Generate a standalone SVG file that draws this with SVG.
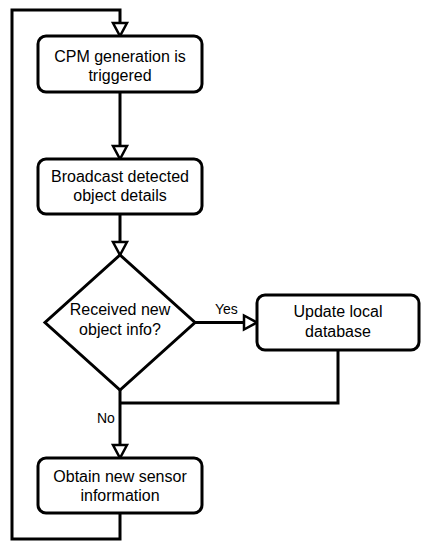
<svg xmlns="http://www.w3.org/2000/svg" width="429" height="550" viewBox="0 0 429 550">
<defs>
<style>
.box{fill:#fff;stroke:#000;stroke-width:3}
.ln{fill:none;stroke:#000;stroke-width:3;marker-end:url(#ah)}
.ln2{fill:none;stroke:#000;stroke-width:3}
text{font-family:"Liberation Sans",Arial,sans-serif;font-size:16px;fill:#000;text-anchor:middle}
.lbl{font-size:14px;text-anchor:start}
</style>
<marker id="ah" markerUnits="userSpaceOnUse" viewBox="0 0 20 20" markerWidth="20" markerHeight="20" refX="16" refY="10" orient="auto" overflow="visible">
<path d="M3,3 L16,10 L3,17 Z" fill="#fff" stroke="#000" stroke-width="2.5" stroke-linejoin="miter"/>
</marker>
</defs>
<rect width="429" height="550" fill="#fff"/>
<g id="connectors">
<path class="ln" d="M120,513 V539 H12 V10 H120 V36"/>
<path class="ln" d="M120,92 V159"/>
<path class="ln" d="M120,214 V255"/>
<path class="ln" d="M195,322.5 H257"/>
<path class="ln2" d="M338,350 V403 H120"/>
<path class="ln" d="M120,390 V458"/>
<text class="lbl" x="215" y="314">Yes</text>
<text class="lbl" x="97" y="423">No</text>
</g>
<g id="n1">
<rect class="box" x="38" y="36" width="164" height="56" rx="8"/>
<text x="120" y="62">CPM generation is</text>
<text x="120" y="81">triggered</text>
</g>
<g id="n2">
<rect class="box" x="38" y="159" width="164" height="55" rx="8"/>
<text x="120" y="182">Broadcast detected</text>
<text x="120" y="201">object details</text>
</g>
<g id="n3">
<polygon class="box" points="120,255 195,322.5 120,390 45,322.5"/>
<text x="120" y="315">Received new</text>
<text x="120" y="335">object info?</text>
</g>
<g id="n4">
<rect class="box" x="257" y="295" width="162" height="55" rx="8"/>
<text x="338" y="317">Update local</text>
<text x="338" y="337">database</text>
</g>
<g id="n5">
<rect class="box" x="38" y="458" width="164" height="55" rx="8"/>
<text x="120" y="482">Obtain new sensor</text>
<text x="120" y="501">information</text>
</g>
</svg>
